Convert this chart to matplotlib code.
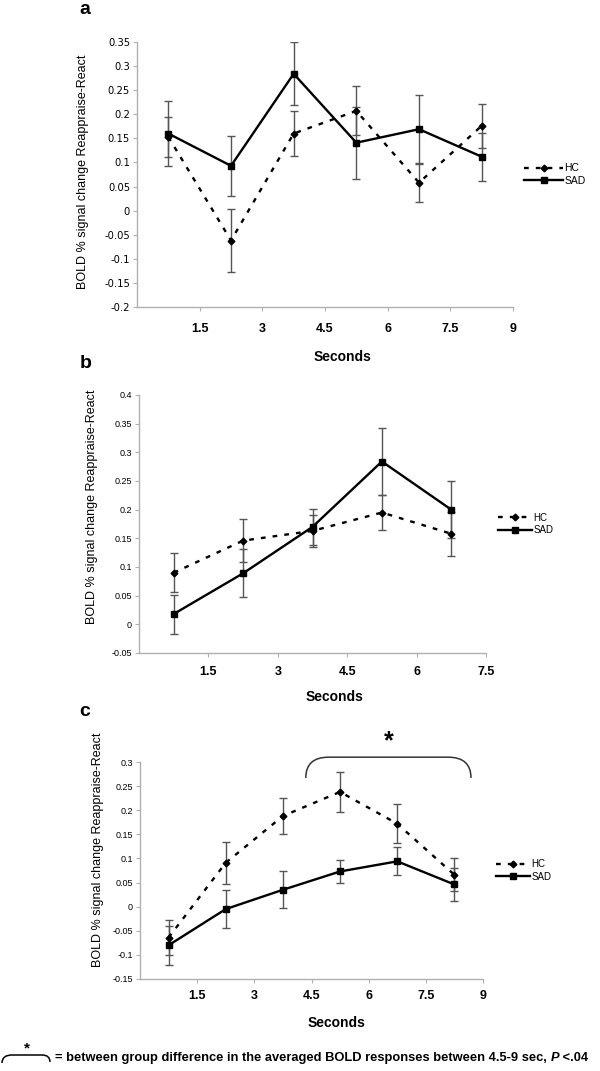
import matplotlib
matplotlib.use('Agg')
import matplotlib.pyplot as plt
import numpy as np
from matplotlib.path import Path
from matplotlib.patches import PathPatch

plt.rcParams['font.family'] = ['Liberation Sans', 'DejaVu Sans']

# ---------------- data ----------------
series_names = ['HC', 'SAD']
ylabel_text = 'BOLD % signal change Reappraise-React'
xlabel_text = 'Seconds'

# Panel a
a_xlabels = ['1.5', '3', '4.5', '6', '7.5', '9']
a_hc = [0.153, -0.062, 0.160, 0.207, 0.058, 0.176]
a_hc_err = [0.042, 0.066, 0.046, 0.051, 0.040, 0.045]
a_sad = [0.160, 0.093, 0.284, 0.141, 0.169, 0.112]
a_sad_err = [0.067, 0.062, 0.065, 0.075, 0.072, 0.050]

# Panel b
b_xlabels = ['1.5', '3', '4.5', '6', '7.5']
b_hc = [0.090, 0.146, 0.163, 0.195, 0.158]
b_hc_err = [0.034, 0.037, 0.028, 0.030, 0.038]
b_sad = [0.018, 0.089, 0.170, 0.284, 0.200]
b_sad_err = [0.034, 0.042, 0.031, 0.058, 0.050]

# Panel c
c_xlabels = ['1.5', '3', '4.5', '6', '7.5', '9']
c_hc = [-0.064, 0.091, 0.188, 0.238, 0.172, 0.066]
c_hc_err = [0.037, 0.044, 0.038, 0.041, 0.040, 0.034]
c_sad = [-0.080, -0.005, 0.035, 0.073, 0.094, 0.046]
c_sad_err = [0.040, 0.040, 0.038, 0.023, 0.029, 0.034]

c_sig_window = (4.5, 9.0)   # seconds
footnote = '= between group difference in the averaged BOLD responses between 4.5-9 sec, '
footnote_p = 'P'
footnote_tail = ' <.04'

# ---------------- layout ----------------
W, H = 600, 1071
fig = plt.figure(figsize=(6, 10.71), dpi=100)


def fx(px):
    return px / W


def fy(py):
    return 1 - py / H


def make_ax(left, right, top, bottom):
    return fig.add_axes([fx(left), fy(bottom), fx(right) - fx(left), fy(top) - fy(bottom)])


SPINE = '#b0b0b0'
ERR = '#555555'


def fmt(v):
    v = float(np.round(v, 2)) + 0.0
    if abs(v) < 1e-9:
        return '0'
    return f'{v:g}'


def panel(ax, xlabels, hc, hc_err, sad, sad_err, ylim, ystep, yfam, ysize, xpad,
          leg_x, leg_size, leg_hl):
    n = len(hc)
    x = np.arange(n) + 0.5
    ax.errorbar(x, hc, yerr=hc_err, fmt='none', ecolor=ERR, elinewidth=1.0,
                capsize=3, capthick=1.0, zorder=2)
    ax.errorbar(x, sad, yerr=sad_err, fmt='none', ecolor=ERR, elinewidth=1.0,
                capsize=3, capthick=1.0, zorder=2)
    ax.plot(x, hc, color='black', ls=(0, (2.0, 3.0)), lw=1.7, marker='D', ms=3.4,
            label=series_names[0], zorder=3)
    ax.plot(x, sad, color='black', ls='-', lw=1.7, marker='s', ms=5,
            label=series_names[1], zorder=3)
    ax.set_xlim(0, n)
    ax.set_xticks(np.arange(1, n + 1))
    ax.set_xticklabels(xlabels, fontweight='bold', fontsize=9)
    yt = np.round(np.arange(ylim[0], ylim[1] + ystep / 2, ystep), 2)
    ax.set_yticks(yt)
    ax.set_yticklabels([fmt(v) for v in yt], fontsize=ysize, family=yfam)
    ax.set_ylim(ylim)
    for s in ['top', 'right']:
        ax.spines[s].set_visible(False)
    for s in ['left', 'bottom']:
        ax.spines[s].set_color(SPINE)
        ax.spines[s].set_linewidth(1.0)
    ax.tick_params(axis='x', length=3, color=SPINE, pad=xpad)
    ax.tick_params(axis='y', length=3, color=SPINE, pad=2)
    ax.legend(loc='center left', bbox_to_anchor=(leg_x, 0.5), frameon=False,
              handlelength=leg_hl, handletextpad=0.15, labelspacing=0.25,
              fontsize=leg_size, borderaxespad=0, borderpad=0)


# Panel a
axa = make_ax(137, 513, 42, 307)
panel(axa, a_xlabels, a_hc, a_hc_err, a_sad, a_sad_err, (-0.2, 0.35), 0.05,
      ['DejaVu Sans'], 7.2, 8.5, 1.03, 7.5, 3.7)
fig.text(fx(85), fy(10), 'a', fontsize=14, fontweight='bold', ha='center', va='center')
fig.text(fx(83), fy(172), ylabel_text, rotation=90, fontsize=9, ha='center', va='center')
fig.text(fx(343), fy(357), xlabel_text, fontsize=10, fontweight='bold', ha='center', va='center')

# Panel b
axb = make_ax(139, 486, 395, 653)
panel(axb, b_xlabels, b_hc, b_hc_err, b_sad, b_sad_err, (-0.05, 0.4), 0.05,
      ['Liberation Sans'], 6.5, 6.4, 1.035, 7, 3.5)
fig.text(fx(86), fy(363), 'b', fontsize=14, fontweight='bold', ha='center', va='center')
fig.text(fx(92), fy(507), ylabel_text, rotation=90, fontsize=9, ha='center', va='center')
fig.text(fx(335), fy(697), xlabel_text, fontsize=10, fontweight='bold', ha='center', va='center')

# Panel c
axc = make_ax(140, 483, 762, 979)
panel(axc, c_xlabels, c_hc, c_hc_err, c_sad, c_sad_err, (-0.15, 0.3), 0.05,
      ['Liberation Sans'], 6.5, 5.0, 1.038, 7, 3.5)
fig.text(fx(85), fy(712), 'c', fontsize=14, fontweight='bold', ha='center', va='center')
fig.text(fx(98), fy(850), ylabel_text, rotation=90, fontsize=9, ha='center', va='center')
fig.text(fx(337), fy(1023), xlabel_text, fontsize=10, fontweight='bold', ha='center', va='center')

# significance brace over panel c (x in category units: seconds / 1.5)
bx0 = c_sig_window[0] / 1.5 - 0.1
bx1 = c_sig_window[1] / 1.5 - 0.21
yb, yt = 0.267, 0.31
rx = 0.4
verts = [(bx0, yb), (bx0, yt), (bx0 + rx, yt), (bx1 - rx, yt), (bx1, yt), (bx1, yb)]
codes = [Path.MOVETO, Path.CURVE3, Path.CURVE3, Path.LINETO, Path.CURVE3, Path.CURVE3]
axc.add_patch(PathPatch(Path(verts, codes), fill=False, lw=1.1, edgecolor='#333333',
                        clip_on=False))
axc.text((bx0 + bx1) / 2, 0.343, '*', fontsize=18, fontweight='bold', ha='center',
         va='center', clip_on=False)

# footnote brace symbol (figure pixels)
fverts = [(fx(2), fy(1063)), (fx(2), fy(1055)), (fx(12), fy(1055)),
          (fx(42), fy(1055)), (fx(50), fy(1055)), (fx(50), fy(1062))]
fig.patches.append(PathPatch(Path(fverts, codes), fill=False, lw=1.1, edgecolor='black',
                             transform=fig.transFigure))
fig.text(fx(27), fy(1048), '*', fontsize=11, fontweight='bold', ha='center', va='center')

FS = 9.3
t1 = fig.text(fx(55), fy(1058), footnote, fontsize=FS, fontweight='bold', ha='left', va='center')
fig.canvas.draw()
r = fig.canvas.get_renderer()
bb = t1.get_window_extent(renderer=r)
t2 = fig.text(bb.x1 / fig.bbox.width, fy(1058), footnote_p, fontsize=FS, fontweight='bold',
              style='italic', ha='left', va='center')
bb2 = t2.get_window_extent(renderer=r)
fig.text(bb2.x1 / fig.bbox.width, fy(1058), footnote_tail, fontsize=FS, fontweight='bold',
         ha='left', va='center')

fig.savefig('out.png', dpi=100)
